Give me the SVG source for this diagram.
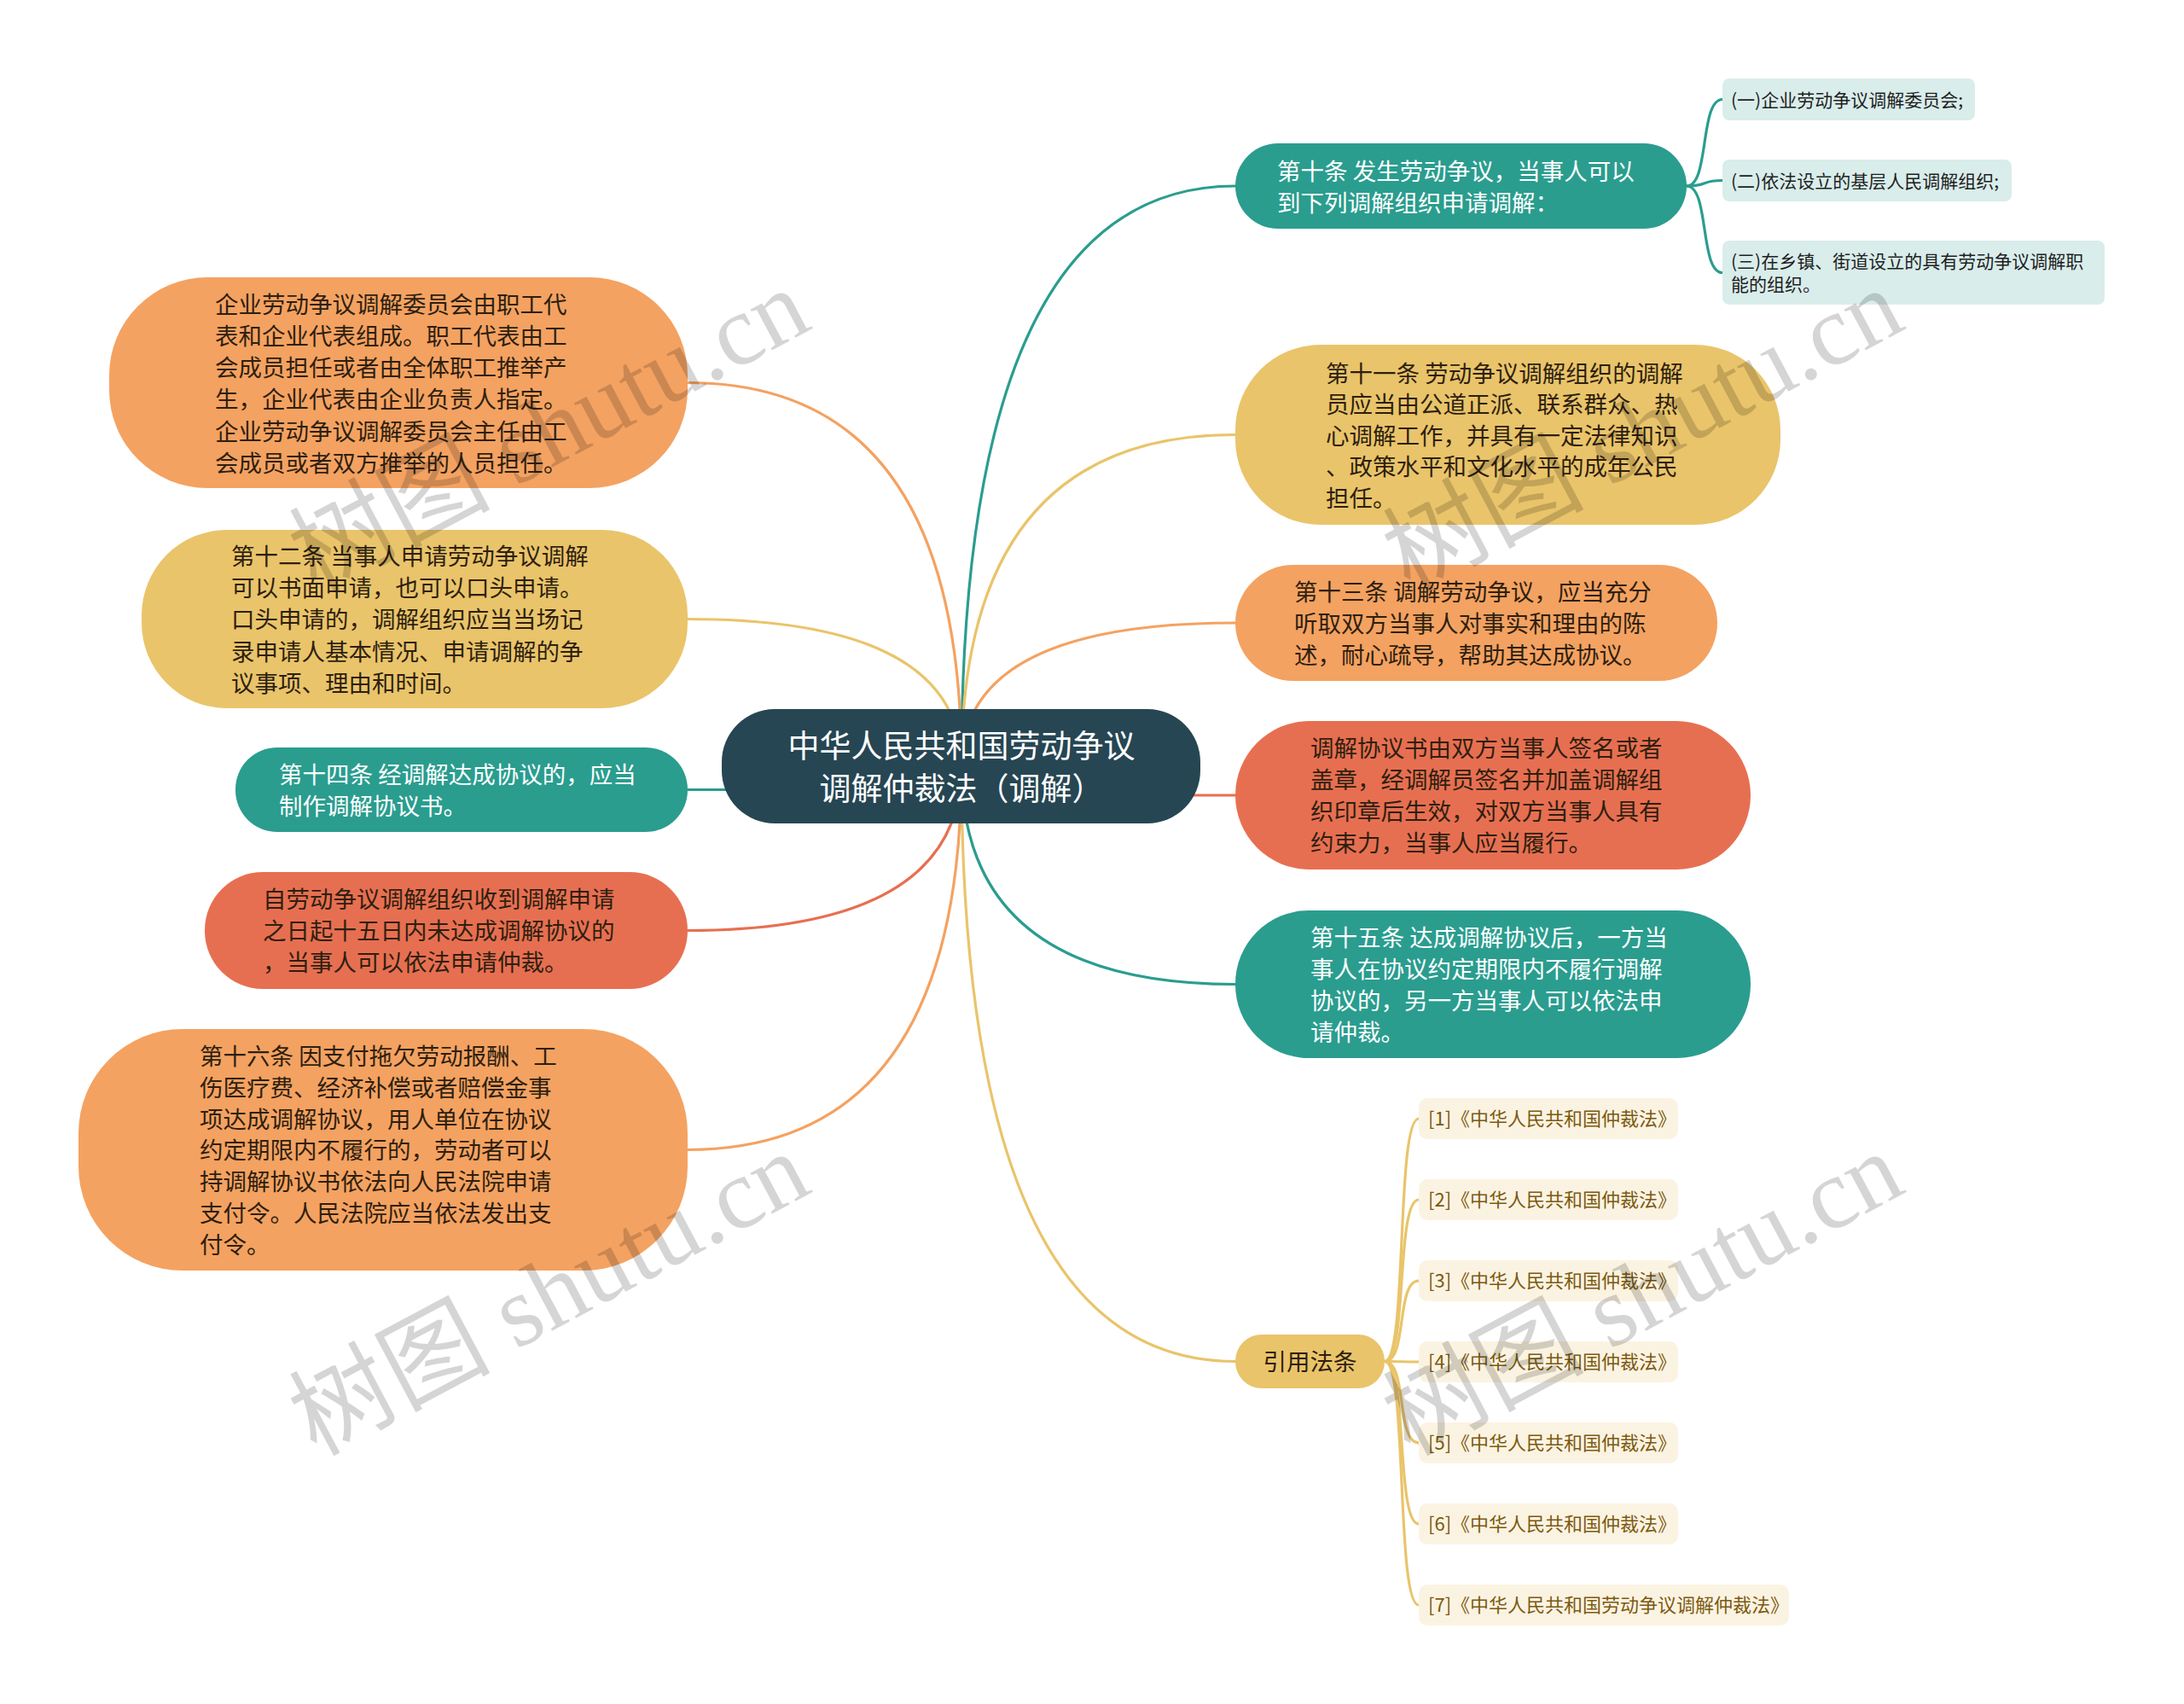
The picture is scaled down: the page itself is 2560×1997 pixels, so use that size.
<svg xmlns="http://www.w3.org/2000/svg" width="2560" height="1997" viewBox="0 0 2560 1997">
<style>
.t{font-family:"Noto Sans CJK SC","Noto Sans",sans-serif;font-size:27.5px;fill:#2e1f10}
.w{fill:#ffffff}
.c{font-family:"Noto Sans CJK SC","Noto Sans",sans-serif;font-size:37px;fill:#ffffff;text-anchor:middle}
.s{font-family:"Noto Sans CJK SC","Noto Sans",sans-serif;font-size:21px;fill:#1e1e1e}
.r{font-family:"Noto Sans CJK SC","Noto Sans",sans-serif;font-size:22px;fill:#7b5a10}
.ln{fill:none;stroke-width:3.2;stroke-linecap:round}
.teal{fill:#2a9d8f}.yel{fill:#e9c46a}.ora{fill:#f4a261}.red{fill:#e76f51}
.sub{fill:#d9edeb}.cit{fill:#fbf3e2}
.wm{font-family:"Liberation Serif","Noto Sans CJK SC",serif;font-size:118px;fill:#000000;opacity:0.16}
</style>
<rect width="2560" height="1997" fill="#ffffff"/>
<g id="connectors">
<path class="ln" stroke="#2a9d8f" d="M1127,898 Q1127,218 1448,218"/>
<path class="ln" stroke="#e9c46a" d="M1127,898 Q1127,509.5 1448,509.5"/>
<path class="ln" stroke="#f4a261" d="M1127,898 Q1127,730 1448,730"/>
<path class="ln" stroke="#e76f51" d="M1127,932 L1448,932"/>
<path class="ln" stroke="#2a9d8f" d="M1127,898 Q1127,1153.5 1448,1153.5"/>
<path class="ln" stroke="#e9c46a" d="M1127,898 Q1127,1595.5 1448,1595.5"/>
<path class="ln" stroke="#f4a261" d="M1127,898 Q1127,448.5 806,448.5"/>
<path class="ln" stroke="#e9c46a" d="M1127,898 Q1127,725.5 806,725.5"/>
<path class="ln" stroke="#2a9d8f" d="M1127,925.5 L806,925.5"/>
<path class="ln" stroke="#e76f51" d="M1127,898 Q1127,1090.5 806,1090.5"/>
<path class="ln" stroke="#f4a261" d="M1127,898 Q1127,1347.5 806,1347.5"/>
<path class="ln" stroke="#2a9d8f" d="M1977,218 C2004,218 1992,116.5 2019,116.5"/>
<path class="ln" stroke="#2a9d8f" d="M1977,218 C2004,218 1992,211.5 2019,211.5"/>
<path class="ln" stroke="#2a9d8f" d="M1977,218 C2004,218 1992,319.5 2019,319.5"/>
<path class="ln" stroke="#e9c46a" d="M1623,1595.5 C1650,1595.5 1636,1311 1663,1311"/>
<path class="ln" stroke="#e9c46a" d="M1623,1595.5 C1650,1595.5 1636,1406 1663,1406"/>
<path class="ln" stroke="#e9c46a" d="M1623,1595.5 C1650,1595.5 1636,1501 1663,1501"/>
<path class="ln" stroke="#e9c46a" d="M1623,1595.5 C1650,1595.5 1636,1596 1663,1596"/>
<path class="ln" stroke="#e9c46a" d="M1623,1595.5 C1650,1595.5 1636,1691 1663,1691"/>
<path class="ln" stroke="#e9c46a" d="M1623,1595.5 C1650,1595.5 1636,1786 1663,1786"/>
<path class="ln" stroke="#e9c46a" d="M1623,1595.5 C1650,1595.5 1636,1881 1663,1881"/>
</g>
<g id="root">
<rect x="846" y="831" width="561" height="134" rx="62" fill="#264653"/>
<text class="c" x="1127" y="888">中华人民共和国劳动争议</text>
<text class="c" x="1127" y="938">调解仲裁法（调解）</text>
</g>
<g id="n10">
<rect class="teal" x="1448" y="168" width="529" height="100" rx="50"/>
<text class="t w" x="1497" y="210.5">第十条 发生劳动争议，当事人可以</text>
<text class="t w" x="1497" y="247.5">到下列调解组织申请调解：</text>
</g>
<g id="n10a">
<rect class="sub" x="2019" y="92" width="296" height="49" rx="8"/>
<text class="s" x="2029" y="124.5">(一)企业劳动争议调解委员会;</text>
</g>
<g id="n10b">
<rect class="sub" x="2019" y="187" width="339" height="49" rx="8"/>
<text class="s" x="2029" y="219.5">(二)依法设立的基层人民调解组织;</text>
</g>
<g id="n10c">
<rect class="sub" x="2019" y="282" width="448" height="75" rx="8"/>
<text class="s" x="2029" y="314">(三)在乡镇、街道设立的具有劳动争议调解职</text>
<text class="s" x="2029" y="341">能的组织。</text>
</g>
<g id="n11">
<rect class="yel" x="1448" y="404" width="639" height="211" rx="100"/>
<text class="t" x="1554" y="447.5">第十一条 劳动争议调解组织的调解</text>
<text class="t" x="1554" y="484">员应当由公道正派、联系群众、热</text>
<text class="t" x="1554" y="520.5">心调解工作，并具有一定法律知识</text>
<text class="t" x="1554" y="557">、政策水平和文化水平的成年公民</text>
<text class="t" x="1554" y="593.5">担任。</text>
</g>
<g id="n13">
<rect class="ora" x="1448" y="662" width="565" height="136" rx="68"/>
<text class="t" x="1517" y="703.5">第十三条 调解劳动争议，应当充分</text>
<text class="t" x="1517" y="740.5">听取双方当事人对事实和理由的陈</text>
<text class="t" x="1517" y="777.5">述，耐心疏导，帮助其达成协议。</text>
</g>
<g id="nxys">
<rect class="red" x="1448" y="845" width="604" height="174" rx="87"/>
<text class="t" x="1536" y="887">调解协议书由双方当事人签名或者</text>
<text class="t" x="1536" y="924">盖章，经调解员签名并加盖调解组</text>
<text class="t" x="1536" y="961">织印章后生效，对双方当事人具有</text>
<text class="t" x="1536" y="998">约束力，当事人应当履行。</text>
</g>
<g id="n15">
<rect class="teal" x="1448" y="1067" width="604" height="173" rx="86"/>
<text class="t w" x="1536" y="1108.5">第十五条 达成调解协议后，一方当</text>
<text class="t w" x="1536" y="1145.5">事人在协议约定期限内不履行调解</text>
<text class="t w" x="1536" y="1182.5">协议的，另一方当事人可以依法申</text>
<text class="t w" x="1536" y="1219.5">请仲裁。</text>
</g>
<g id="nref">
<rect class="yel" x="1448" y="1564" width="175" height="63" rx="31"/>
<text class="t" x="1535.5" y="1606" font-size="28" text-anchor="middle">引用法条</text>
</g>
<g id="ref1"><rect class="cit" x="1663" y="1287" width="304" height="48" rx="10"/><text class="r" x="1674" y="1319">[1]《中华人民共和国仲裁法》</text></g>
<g id="ref2"><rect class="cit" x="1663" y="1382" width="304" height="48" rx="10"/><text class="r" x="1674" y="1414">[2]《中华人民共和国仲裁法》</text></g>
<g id="ref3"><rect class="cit" x="1663" y="1477" width="304" height="48" rx="10"/><text class="r" x="1674" y="1509">[3]《中华人民共和国仲裁法》</text></g>
<g id="ref4"><rect class="cit" x="1663" y="1572" width="304" height="48" rx="10"/><text class="r" x="1674" y="1604">[4]《中华人民共和国仲裁法》</text></g>
<g id="ref5"><rect class="cit" x="1663" y="1667" width="304" height="48" rx="10"/><text class="r" x="1674" y="1699">[5]《中华人民共和国仲裁法》</text></g>
<g id="ref6"><rect class="cit" x="1663" y="1762" width="304" height="48" rx="10"/><text class="r" x="1674" y="1794">[6]《中华人民共和国仲裁法》</text></g>
<g id="ref7"><rect class="cit" x="1663" y="1857" width="434" height="48" rx="10"/><text class="r" x="1674" y="1889">[7]《中华人民共和国劳动争议调解仲裁法》</text></g>
<g id="nL1">
<rect class="ora" x="128" y="325" width="678" height="247" rx="115"/>
<text class="t" x="252" y="366.5">企业劳动争议调解委员会由职工代</text>
<text class="t" x="252" y="403.8">表和企业代表组成。职工代表由工</text>
<text class="t" x="252" y="441.1">会成员担任或者由全体职工推举产</text>
<text class="t" x="252" y="478.4">生，企业代表由企业负责人指定。</text>
<text class="t" x="252" y="515.7">企业劳动争议调解委员会主任由工</text>
<text class="t" x="252" y="553">会成员或者双方推举的人员担任。</text>
</g>
<g id="nL2">
<rect class="yel" x="166" y="621" width="640" height="209" rx="100"/>
<text class="t" x="271" y="661.5">第十二条 当事人申请劳动争议调解</text>
<text class="t" x="271" y="698.5">可以书面申请，也可以口头申请。</text>
<text class="t" x="271" y="736">口头申请的，调解组织应当当场记</text>
<text class="t" x="271" y="773.5">录申请人基本情况、申请调解的争</text>
<text class="t" x="271" y="810.5">议事项、理由和时间。</text>
</g>
<g id="nL3">
<rect class="teal" x="276" y="876" width="530" height="99" rx="49"/>
<text class="t w" x="327" y="917.5">第十四条 经调解达成协议的，应当</text>
<text class="t w" x="327" y="954.5">制作调解协议书。</text>
</g>
<g id="nL4">
<rect class="red" x="240" y="1022" width="566" height="137" rx="68"/>
<text class="t" x="308" y="1064">自劳动争议调解组织收到调解申请</text>
<text class="t" x="308" y="1101">之日起十五日内未达成调解协议的</text>
<text class="t" x="308" y="1138">，当事人可以依法申请仲裁。</text>
</g>
<g id="nL5">
<rect class="ora" x="92" y="1206" width="714" height="283" rx="122"/>
<text class="t" x="234" y="1247.5">第十六条 因支付拖欠劳动报酬、工</text>
<text class="t" x="234" y="1284.5">伤医疗费、经济补偿或者赔偿金事</text>
<text class="t" x="234" y="1321.5">项达成调解协议，用人单位在协议</text>
<text class="t" x="234" y="1358">约定期限内不履行的，劳动者可以</text>
<text class="t" x="234" y="1394.5">持调解协议书依法向人民法院申请</text>
<text class="t" x="234" y="1431.5">支付令。人民法院应当依法发出支</text>
<text class="t" x="234" y="1468.5">付令。</text>
</g>
<g id="watermarks">
<text class="wm" transform="translate(370,695) rotate(-28)">树图 shutu.cn</text>
<text class="wm" transform="translate(1652,695) rotate(-28)">树图 shutu.cn</text>
<text class="wm" transform="translate(370,1707) rotate(-28)">树图 shutu.cn</text>
<text class="wm" transform="translate(1652,1707) rotate(-28)">树图 shutu.cn</text>
</g>
</svg>
